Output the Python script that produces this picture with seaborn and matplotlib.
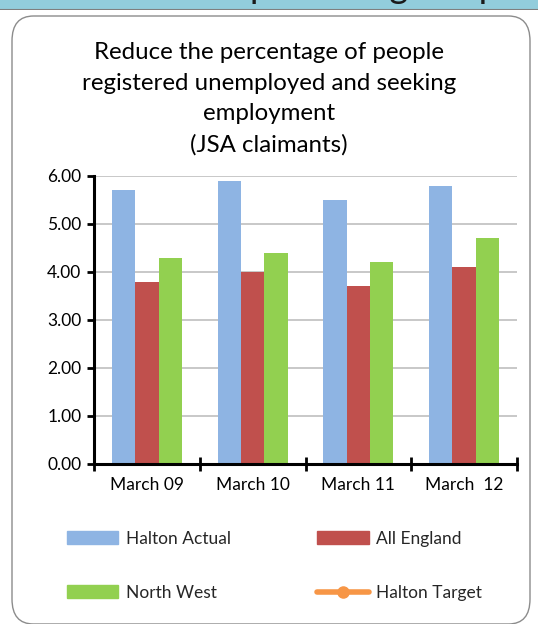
import numpy as np
import pandas as pd
import seaborn as sns
import matplotlib.pyplot as plt
from matplotlib.patches import FancyBboxPatch, Patch
from matplotlib.lines import Line2D

# data
months = ["March 09", "March 10", "March 11", "March  12"]
halton_actual = [5.7, 5.9, 5.5, 5.8]
all_england = [3.8, 4.0, 3.7, 4.1]
north_west = [4.3, 4.4, 4.2, 4.7]
series = ["Halton Actual", "All England", "North West"]
colors = ["#8EB4E3", "#C0504D", "#92D050"]
target_color = "#F79646"

df = pd.DataFrame({
    "month": months * 3,
    "series": [s for s in series for _ in months],
    "value": halton_actual + all_england + north_west,
})

sns.set_style("white")
plt.rcParams['font.family'] = ['Lato', 'DejaVu Sans']

fig = plt.figure(figsize=(5.38, 6.24), dpi=100)

# slide strip along the top edge (only the bottoms of the slide heading show)
strip = fig.add_axes([0, 1 - 10 / 624, 1, 10 / 624])
strip.set_facecolor("#92CDDC")
strip.set_xlim(0, 538)
strip.set_ylim(0, 10)
strip.set_xticks([])
strip.set_yticks([])
for sp in strip.spines.values():
    sp.set_visible(False)
strip.text(250, 11.5, "percentage of people", fontsize=26, color="#1a1a1a",
           va="baseline", ha="left", clip_on=True)
strip.axhline(0.3, color="#7f7f7f", lw=1.5)

# rounded chart frame
frame = FancyBboxPatch((12 / 538, 0.0), (530 - 12) / 538, (612 - 4) / 624,
                       boxstyle="round,pad=0,rounding_size=0.04",
                       transform=fig.transFigure, facecolor="none",
                       edgecolor="#8c8c8c", lw=1.0, zorder=0)
fig.patches.append(frame)

ax = fig.add_axes([94 / 538, 160 / 624, (517 - 94) / 538, 288 / 624])
sns.barplot(data=df, x="month", y="value", hue="series", palette=colors,
            width=0.66, gap=0, saturation=1, ax=ax, legend=False, zorder=2,
            linewidth=0, edgecolor="none")

ax.set_ylim(0, 6)
ax.set_xlim(-0.5, 3.5)
ax.set_yticks(np.arange(0, 6.01, 1))
ax.set_yticklabels([f"{v:.2f}" for v in np.arange(0, 6.01, 1)], fontsize=12.5)
ax.set_xticklabels(months, fontsize=12.5)
ax.set_xlabel("")
ax.set_ylabel("")
ax.yaxis.grid(True, color="#BFBFBF", lw=1.2, zorder=0)
ax.set_axisbelow(True)
for side in ["top", "right"]:
    ax.spines[side].set_visible(False)
for side in ["left", "bottom"]:
    ax.spines[side].set_color("black")
    ax.spines[side].set_linewidth(2.2)
ax.tick_params(axis="y", direction="out", length=5, width=2, color="black",
               pad=4, labelcolor="black", left=True)
ax.set_xticks(np.arange(-0.5, 3.6, 1), minor=True)
ax.tick_params(axis="x", which="major", length=0, pad=9, labelcolor="black")
ax.tick_params(axis="x", which="minor", direction="inout", length=10,
               width=2, color="black", bottom=True)

fig.text(0.5, 0.932,
         "Reduce the percentage of people\nregistered unemployed and seeking\nemployment\n(JSA claimants)",
         ha="center", va="top", fontsize=17.3, linespacing=1.55, color="black")

handles = [Patch(color=c) for c in colors] + [
    Line2D([], [], color=target_color, lw=4, marker="o", ms=8)]
labels = series + ["Halton Target"]
# row order: Halton Actual, All England / North West, Halton Target
order = [0, 2, 1, 3]
fig.legend([handles[i] for i in order], [labels[i] for i in order],
           loc="upper left", bbox_to_anchor=(51 / 538, 1 - 515 / 624),
           ncol=2, frameon=False, fontsize=12.5, handlelength=2.95,
           handleheight=0.75, handletextpad=0.45, columnspacing=5.0,
           labelspacing=2.2)

fig.savefig("out.png", dpi=100)
